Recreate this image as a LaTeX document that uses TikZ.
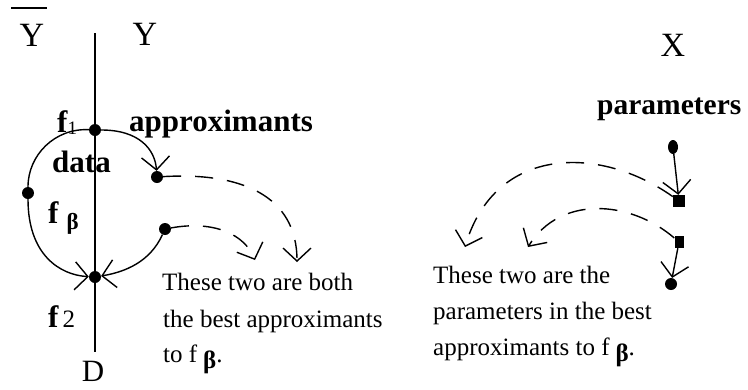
\documentclass[tikz,border=0pt]{standalone}
\usepackage{fontspec}
\setmainfont{Liberation Serif}
\usetikzlibrary{arrows.meta,shapes.geometric}
\begin{document}
\begin{tikzpicture}[x=1pt,y=-1pt,
  dot/.style={circle,fill,inner sep=0pt,minimum size=12pt},
  sq/.style={rectangle,fill,inner sep=0pt,minimum width=12pt,minimum height=12pt},
  conn/.style={line width=1.4pt,-{Straight Barb[length=13pt,width=28pt]}},
  dsh/.style={conn,dash pattern=on 18pt off 14pt},
  big/.style={font=\fontsize{34}{34}\selectfont,inner sep=0pt},
  bigb/.style={font=\fontsize{31}{31}\selectfont\bfseries,inner sep=0pt,anchor=base west},
  body/.style={font=\fontsize{25}{25}\selectfont,inner sep=0pt,anchor=base west}]
\useasboundingbox[fill=white] (0,0) rectangle (748,389);
% axis labels
\node[big] (ybar) at (32,35) {Y};
\coordinate (ol1) at (11,8);
\coordinate (ol2) at (47,8);
\draw[line width=1.6pt] (ol1) -- (ol2);
\node[big] (y) at (145,34) {Y};
\node[big,font=\fontsize{31}{31}\selectfont,anchor=base] (d) at (93,381) {D};
\node[big] (x) at (673,45) {X};
% vertical line
\coordinate (ytop) at (95,33);
\coordinate (ybot) at (95,352);
\draw[line width=1.4pt] (ytop) -- (ybot);
% labels
\node[bigb] (f1l) at (57,132) {f\raisebox{-2pt}{\fontsize{19}{19}\selectfont\mdseries 1}};
\node[bigb] (appr) at (129,131) {approximants};
\node[bigb] (data) at (52,172) {data};
\node[bigb] (fbl) at (48,223) {f\hspace{8pt}\raisebox{-6pt}{\fontsize{23}{23}\selectfont β}};
\node[bigb] (f2l) at (48,327) {f\hspace{4pt}{\fontsize{25}{25}\selectfont\mdseries 2}};
\node[bigb,font=\fontsize{29.5}{29.5}\selectfont\bfseries] (par) at (597,114) {parameters};
% body text
\node[body] (t1) at (162,290) {These two are both};
\node[body] (t2) at (163,327) {the best approximants};
\node[body] (t3) at (163,362) {to f\hspace{6pt}\raisebox{-6pt}{\bfseries β}.};
\node[body] (r1) at (433,283) {These two are the};
\node[body] (r2) at (433,319) {parameters in the best};
\node[body] (r3) at (433,355) {approximants to f\hspace{6pt}\raisebox{-6pt}{\bfseries β}.};
% left dots and curves
\node[dot] (f1) at (95,130) {};
\node[dot] (fb) at (28,193) {};
\node[dot] (f2) at (95,277) {};
\node[dot] (a1) at (157,177) {};
\node[dot] (a2) at (165,229) {};
\draw[line width=1.4pt] (f1) .. controls (55,128) and (28,155) .. (fb);
\draw[conn] (fb) .. controls (28,255) and (60,275) .. (f2);
\draw[conn] (a2) .. controls (150,262) and (125,272) .. (f2);
\draw[conn] (f1) .. controls (140,130) and (155,150) .. (a1);
\coordinate (e1) at (297,262);
\coordinate (e2) at (255,260);
\draw[dsh] (a1) .. controls (240,172) and (297,195) .. (e1);
\draw[dsh] (a2) .. controls (215,220) and (245,235) .. (e2);
% right side
\node[ellipse,fill,inner sep=0pt,minimum width=10pt,minimum height=14pt] (p0) at (673,147) {};
\node[sq] (s1) at (679,201) {};
\node[sq,minimum width=9pt] (s2) at (679,242) {};
\node[dot] (p3) at (671,284) {};
\draw[conn] (p0) -- (s1);
\draw[conn] (s2) -- (p3);
\coordinate (e3) at (465,247);
\coordinate (e4) at (528,247);
\draw[dsh] (s1) .. controls (600,145) and (495,145) .. (e3);
\draw[dsh] (s2) .. controls (630,200) and (560,195) .. (e4);
\end{tikzpicture}
\end{document}
